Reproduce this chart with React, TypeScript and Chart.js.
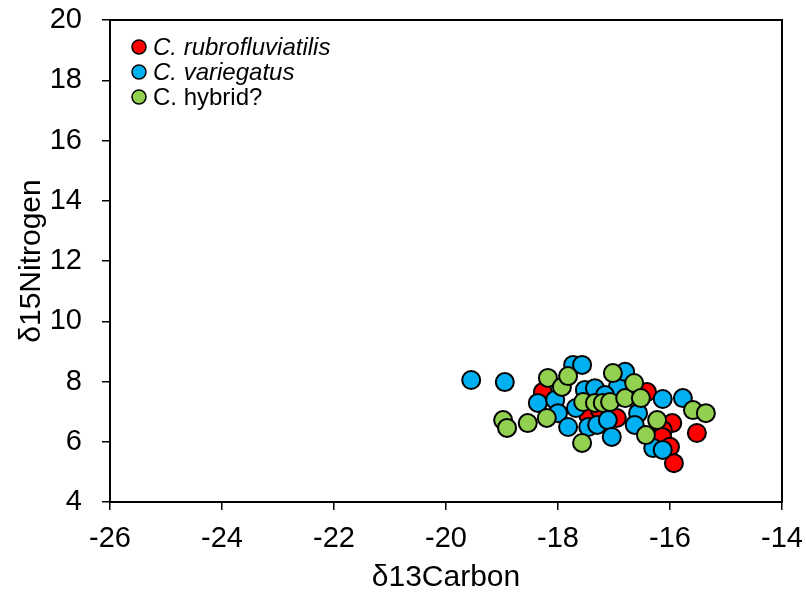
import React, { useEffect, useRef } from "react";
import { Chart, registerables } from "chart.js";

Chart.register(...registerables);

// Stable isotope values per group: δ13C (x) and δ15N (y)
const seriesNames = ["C. rubrofluviatilis", "C. variegatus", "C. hybrid?"];

const rubroCarbon = [-18.27, -17.46, -16.95, -16.41, -15.96, -16.13, -15.52, -16.14, -16.0, -15.93, -17.25];
const rubroNitrogen = [7.65, 6.89, 6.79, 7.65, 6.62, 6.39, 6.29, 6.16, 5.83, 5.29, 7.05];

const variegatusCarbon = [
  -19.55, -18.95, -18.36, -18.05, -18.0, -17.73, -17.57, -17.52, -17.34, -16.93, -16.8,
  -17.82, -17.46, -17.3, -17.11, -17.04, -16.57, -16.63, -16.13, -15.77, -16.3, -16.13,
  -17.68, -17.16,
];
const variegatusNitrogen = [
  8.05, 7.98, 7.29, 7.39, 6.95, 8.55, 8.55, 7.72, 7.78, 7.82, 8.32,
  6.49, 6.49, 6.56, 6.72, 6.16, 6.95, 6.56, 7.42, 7.45, 5.79, 5.73,
  7.12, 7.55,
];

const hybridCarbon = [
  -18.98, -18.91, -18.54, -18.2, -18.18, -17.93, -17.82, -17.55, -17.34, -17.2,
  -17.07, -17.02, -17.57, -16.8, -16.64, -16.52, -16.23, -16.43, -15.59, -15.36,
];
const hybridNitrogen = [
  6.72, 6.46, 6.62, 6.79, 8.12, 7.82, 8.18, 7.32, 7.29, 7.29,
  7.32, 8.28, 5.96, 7.45, 7.95, 7.45, 6.72, 6.22, 7.05, 6.95,
];

const xTicks = [-26, -24, -22, -20, -18, -16, -14];
const yTicks = [4, 6, 8, 10, 12, 14, 16, 18, 20];

const seriesColors = ["#FF0000", "#00B0F0", "#92D050"];
const legendItalic = [true, true, false];
const FONT = "Arial, 'Liberation Sans', sans-serif";

function toPoints(xs: number[], ys: number[]) {
  return xs.map((x, i) => ({ x, y: ys[i] }));
}

// Plot frame plus the in-plot legend with mixed italic labels
const framePlugin = {
  id: "frameAndLegend",
  afterDraw(chart: any) {
    const { ctx, chartArea } = chart;
    ctx.save();
    ctx.strokeStyle = "#000";
    ctx.lineWidth = 2;
    ctx.strokeRect(chartArea.left, chartArea.top, chartArea.right - chartArea.left, chartArea.bottom - chartArea.top);

    const x0 = chartArea.left + 29;
    const y0 = chartArea.top + 27;
    const step = 25;
    seriesNames.forEach((name, i) => {
      const cy = y0 + i * step;
      ctx.beginPath();
      ctx.arc(x0, cy, 7, 0, Math.PI * 2);
      ctx.fillStyle = seriesColors[i];
      ctx.fill();
      ctx.lineWidth = 1.5;
      ctx.strokeStyle = "#000";
      ctx.stroke();
      ctx.fillStyle = "#000";
      ctx.font = `${legendItalic[i] ? "italic " : ""}24px ${FONT}`;
      ctx.textBaseline = "middle";
      ctx.textAlign = "left";
      ctx.fillText(name, x0 + 14, cy + 1);
    });
    ctx.restore();
  },
};

function clearPadding(scale: any) {
  scale.paddingTop = 0;
  scale.paddingBottom = 0;
  scale.paddingLeft = 0;
  scale.paddingRight = 0;
}

export default function App() {
  const canvasRef = useRef<HTMLCanvasElement | null>(null);

  useEffect(() => {
    if (!canvasRef.current) return;
    const xs = [rubroCarbon, variegatusCarbon, hybridCarbon];
    const ys = [rubroNitrogen, variegatusNitrogen, hybridNitrogen];

    const chart = new Chart(canvasRef.current, {
      type: "scatter",
      data: {
        datasets: seriesNames.map((name, i) => ({
          label: name,
          data: toPoints(xs[i], ys[i]),
          backgroundColor: seriesColors[i],
          borderColor: "#000",
          borderWidth: 2,
          pointRadius: 9,
          pointHoverRadius: 9,
          order: seriesNames.length - i,
        })),
      },
      options: {
        responsive: false,
        animation: false,
        layout: { padding: { left: 0, top: 20, right: 24, bottom: 0 } },
        plugins: {
          legend: { display: false },
          tooltip: { enabled: false },
        },
        scales: {
          x: {
            type: "linear",
            min: xTicks[0],
            max: xTicks[xTicks.length - 1],
            afterBuildTicks: (scale: any) => {
              scale.ticks = xTicks.map((v) => ({ value: v }));
            },
            afterFit: (scale: any) => {
              scale.height = 96;
              clearPadding(scale);
            },
            grid: {
              display: true,
              drawOnChartArea: false,
              drawTicks: true,
              tickLength: 8,
              color: "#000",
              lineWidth: 1.5,
            },
            border: { display: false },
            ticks: {
              color: "#000",
              font: { family: FONT, size: 29 },
              padding: 12,
              maxRotation: 0,
            },
            title: {
              display: true,
              text: "δ13Carbon",
              color: "#000",
              font: { family: FONT, size: 30 },
              padding: { bottom: 2 },
            },
          },
          y: {
            type: "linear",
            min: yTicks[0],
            max: yTicks[yTicks.length - 1],
            afterBuildTicks: (scale: any) => {
              scale.ticks = yTicks.map((v) => ({ value: v }));
            },
            afterFit: (scale: any) => {
              scale.width = 110;
              clearPadding(scale);
            },
            grid: {
              display: true,
              drawOnChartArea: false,
              drawTicks: true,
              tickLength: 8,
              color: "#000",
              lineWidth: 1.5,
            },
            border: { display: false },
            ticks: {
              color: "#000",
              font: { family: FONT, size: 29 },
              padding: 20,
            },
            title: {
              display: true,
              text: "δ15Nitrogen",
              color: "#000",
              font: { family: FONT, size: 30 },
              padding: { top: 14 },
            },
          },
        },
      },
      plugins: [framePlugin],
    });

    return () => chart.destroy();
  }, []);

  return (
    <div style={{ position: "fixed", left: 0, top: 0, width: 806, height: 598, background: "#fff" }}>
      <canvas ref={canvasRef} width={806} height={598} style={{ width: 806, height: 598, display: "block" }} />
    </div>
  );
}
